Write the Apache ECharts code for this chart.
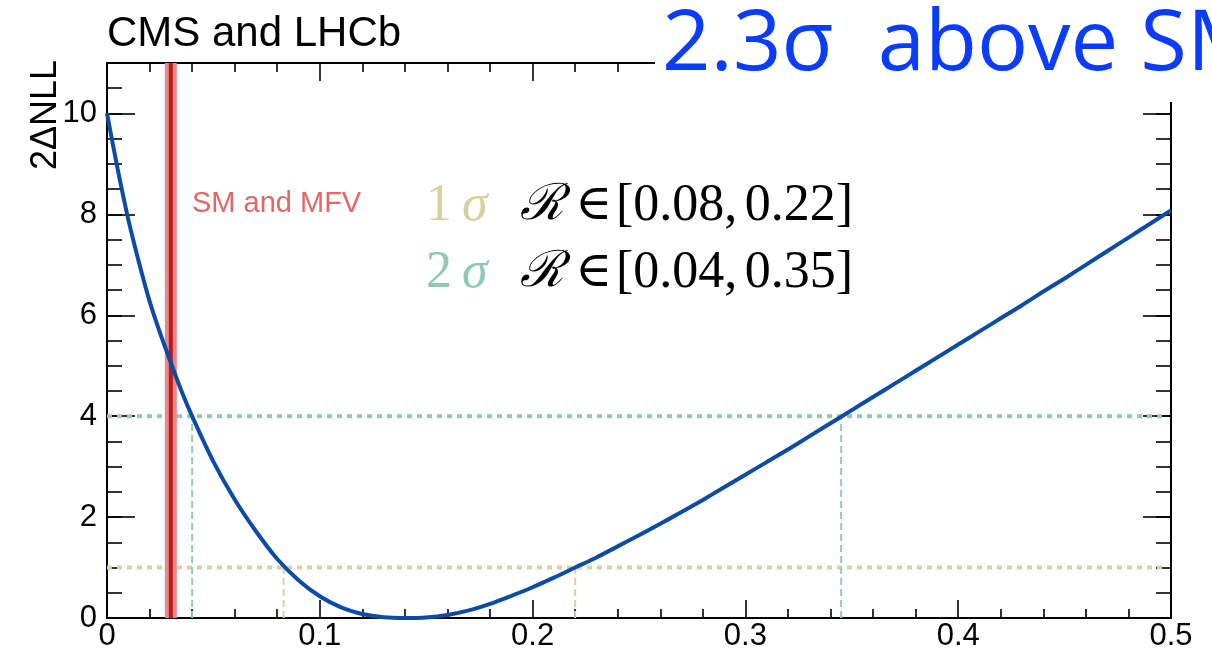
<!DOCTYPE html>
<html>
<head>
<meta charset="utf-8">
<script src="https://cdn.jsdelivr.net/npm/echarts@6/dist/echarts.min.js"></script>
<style>
html,body{margin:0;padding:0;background:#fff;}
#chart{width:1212px;height:652px;}
</style>
</head>
<body>
<div id="chart"></div>
<script>
// ---- data ----
const rValues = [0,0.005,0.01,0.015,0.02,0.025,0.03,0.035,0.04,0.05,0.06,0.07,0.08,0.09,0.10,0.11,0.12,0.13,0.14,0.15,0.16,0.17,0.18,0.19,0.20,0.21,0.22,0.23,0.24,0.25,0.26,0.27,0.28,0.29,0.30,0.31,0.32,0.33,0.34,0.35,0.36,0.37,0.38,0.39,0.40,0.41,0.42,0.43,0.44,0.45,0.46,0.47,0.48,0.49,0.50];
const nllValues = [10.0,8.9,7.9,7.05,6.28,5.64,5.06,4.50,4.0,3.1,2.35,1.72,1.17,0.75,0.43,0.21,0.08,0.015,0.0,0.01,0.06,0.15,0.28,0.44,0.61,0.80,1.0,1.2,1.42,1.64,1.87,2.1,2.34,2.59,2.84,3.09,3.34,3.6,3.86,4.12,4.38,4.64,4.9,5.16,5.42,5.68,5.94,6.2,6.47,6.73,7.0,7.27,7.54,7.81,8.08];
const smValue = [0.03];
const sigmaLevels = [1, 4];
const sigma1Interval = [0.083, 0.22];
const sigma2Interval = [0.04, 0.345];
const xTickLabels = ['0','0.1','0.2','0.3','0.4','0.5'];
const yTickLabels = ['0','2','4','6','8','10'];

const X_MIN = 0, X_MAX = 0.5, Y_MIN = 0, Y_MAX = 11;

const chart = echarts.init(document.getElementById('chart'), null, {renderer:'canvas'});

const frameLine = {show:true, onZero:false, lineStyle:{color:'#000', width:2}};
const tickStyle = {color:'#000', width:1.6};
const labelFont = {fontFamily:'"Liberation Sans", Arial, sans-serif', fontSize:31, color:'#000'};

function xAxisDef(pos, showLabel){
  return {
    type:'value', min:X_MIN, max:X_MAX, interval:0.1, position:pos,
    axisLine:frameLine,
    axisTick:{show:true, inside:true, length:18, lineStyle:tickStyle},
    minorTick:{show:true, splitNumber:5, length:9, lineStyle:tickStyle},
    splitLine:{show:false}, minorSplitLine:{show:false},
    axisLabel:Object.assign({show:showLabel, margin:3,
      formatter:function(v){ const i = Math.round(v/0.1); return xTickLabels[i] !== undefined ? xTickLabels[i] : ''; }}, labelFont)
  };
}
function yAxisDef(pos, interval, len, showLine, showLabel){
  return {
    type:'value', min:Y_MIN, max:Y_MAX, interval:interval, position:pos,
    axisLine:showLine ? frameLine : {show:false, onZero:false},
    axisTick:{show:true, inside:true, length:len, lineStyle:tickStyle},
    splitLine:{show:false},
    axisLabel:Object.assign({show:showLabel, margin:10,
      formatter:function(v){ const i = Math.round(v/2); return (Math.abs(v - i*2) < 1e-6 && yTickLabels[i] !== undefined) ? yTickLabels[i] : ''; }}, labelFont)
  };
}

const curveData = rValues.map((r,i)=>[r, nllValues[i]]);

function hLine(level, color){
  return {type:'line', xAxisIndex:0, yAxisIndex:0, data:[[X_MIN, level],[X_MAX*0.994, level]],
    showSymbol:false, silent:true, z:2,
    lineStyle:{color:color, width:4, type:[5,5], cap:'butt'}};
}
function vLine(x, level, color){
  return {type:'line', xAxisIndex:0, yAxisIndex:0, data:[[x, 0],[x, level]],
    showSymbol:false, silent:true, z:2,
    lineStyle:{color:color, width:2, type:[7,4], cap:'butt'}};
}
const yellow = '#d9d49e';
const green = '#8ecdb4';

const series = [
  hLine(sigmaLevels[0], yellow),
  hLine(sigmaLevels[1], green),
  vLine(sigma1Interval[0], sigmaLevels[0], yellow),
  vLine(sigma1Interval[1], sigmaLevels[0], yellow),
  vLine(sigma2Interval[0], sigmaLevels[1], green),
  vLine(sigma2Interval[1], sigmaLevels[1], green),
  {type:'line', data:[[smValue[0], Y_MIN],[smValue[0], Y_MAX]], showSymbol:false, silent:true, z:3,
   lineStyle:{color:'#e8888a', width:12, cap:'butt'}},
  {type:'line', data:[[smValue[0], Y_MIN],[smValue[0], Y_MAX]], showSymbol:false, silent:true, z:4,
   lineStyle:{color:'#b51d1d', width:4, cap:'butt'}},
  {type:'line', data:curveData, smooth:0.3, showSymbol:false, silent:true, z:5,
   lineStyle:{color:'#0c4ca6', width:4}}
];

const serif = '"Liberation Serif", "DejaVu Serif", serif';
function txt(x, y, text, opts){
  return {type:'text', x:x, y:y, z:50, silent:true,
    style:Object.assign({text:text, fill:'#000', align:'left', verticalAlign:'middle',
      font:'52px ' + serif}, opts || {})};
}

const graphic = [
  txt(107, 34, 'CMS and LHCb', {font:'42px "Liberation Sans", Arial, sans-serif'}),
  {type:'text', x:46, y:60, rotation:Math.PI/2, z:50, silent:true,
   style:{text:'2ΔNLL', fill:'#000', align:'right', verticalAlign:'middle', font:'36px "Liberation Sans", Arial, sans-serif'}},
  txt(192, 204, 'SM and MFV', {font:'29px "Liberation Sans", Arial, sans-serif', fill:'#e06868'}),
  // 1 sigma line
  txt(426, 206, '1', {fill:'#d8d09f'}),
  txt(462, 206, 'σ', {fill:'#d8d09f', font:'italic 52px ' + serif}),
  txt(520, 206, 'ℛ', {font:'italic 50px "DejaVu Serif", serif'}),
  txt(575, 206, '∈', {font:'50px "DejaVu Serif", serif'}),
  txt(616, 206, '[0.08,', {}),
  txt(853, 206, '0.22]', {align:'right'}),
  // 2 sigma line
  txt(426, 273, '2', {fill:'#8ecab2'}),
  txt(462, 273, 'σ', {fill:'#8ecab2', font:'italic 52px ' + serif}),
  txt(520, 273, 'ℛ', {font:'italic 50px "DejaVu Serif", serif'}),
  txt(575, 273, '∈', {font:'50px "DejaVu Serif", serif'}),
  txt(616, 273, '[0.04,', {}),
  txt(853, 273, '0.35]', {align:'right'}),
  // overlay title box
  {type:'rect', z:90, silent:true, shape:{x:655, y:0, width:557, height:102}, style:{fill:'#fff'}},
  {type:'text', x:662, y:46, z:100, silent:true,
   style:{text:'2.3σ  above SM', fill:'#0a3cff', align:'left', verticalAlign:'middle', font:'85px "Open Sans", Lato, sans-serif'}}
];

chart.setOption({
  animation:false,
  backgroundColor:'#fff',
  grid:{left:107, right:41, top:63, bottom:32, containLabel:false},
  xAxis:[xAxisDef('bottom', true), xAxisDef('top', false)],
  yAxis:[yAxisDef('left', 2, 28, true, true), yAxisDef('left', 0.5, 15, false, false),
         yAxisDef('right', 2, 28, true, false), yAxisDef('right', 0.5, 15, false, false)],
  series:series,
  graphic:graphic
});
</script>
</body>
</html>
